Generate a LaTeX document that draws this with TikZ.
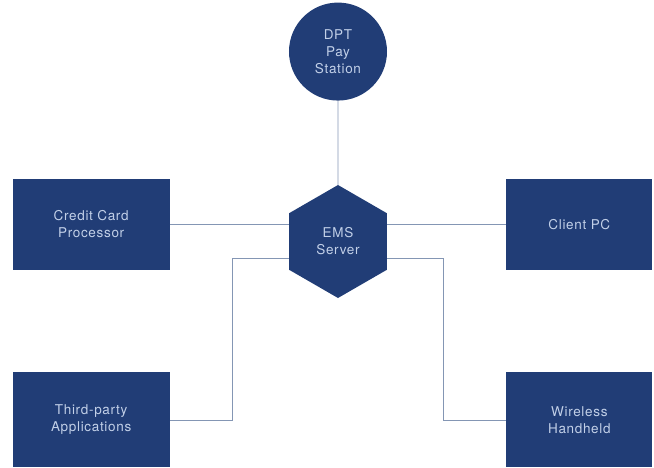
\documentclass[tikz,border=0pt]{standalone}
\usepackage{fontspec}
\setmainfont{TeX Gyre Heros}
\newfontfamily\labelfont[LetterSpace=5]{TeX Gyre Heros}
\usetikzlibrary{positioning,shapes.geometric}

\definecolor{boxblue}{HTML}{213D76}
\definecolor{linkgray}{HTML}{8496B4}
\definecolor{labelblue}{HTML}{C2D0E8}

\begin{document}
\begin{tikzpicture}[
    box/.style={draw=none,fill=boxblue,text=labelblue,inner sep=0pt,
      align=center,minimum width=157pt,minimum height=91pt,
      font=\labelfont\fontsize{13.5}{17}\selectfont},
    hub/.style={box,regular polygon,regular polygon sides=6,
      shape border rotate=30,minimum width=0pt,minimum height=0pt,minimum size=113pt},
    station/.style={box,circle,minimum width=0pt,minimum height=0pt,minimum size=98pt},
    link/.style={draw=linkgray,line width=0.8pt}
  ]
    \useasboundingbox (-338pt,-225.5pt) rectangle (316pt,241.5pt);
    \node[hub] (ems) at (0,0) {EMS\\Server};
    \node[station,above=84pt of ems] (dpt) {DPT\\Pay\\Station};
    \node[box,left=119pt of ems,yshift=17pt] (card) {Credit Card\\Processor};
    \node[box,right=119pt of ems,yshift=17pt,minimum width=146pt] (client) {Client PC};
    \node[box,below=102pt of card,minimum height=95pt] (third) {Third-party\\Applications};
    \node[box,below=102pt of client,minimum width=146pt,minimum height=95pt] (wireless) {Wireless\\Handheld};
    \draw[link] (dpt)--(ems);
    \draw[link] (card.east)--(card.east -| ems.west);
    \draw[link] (client.west)--(client.west -| ems.east);
    \draw[link] ([yshift=-16.5pt]ems.west) -| ([xshift=63pt]third.east)--(third.east);
    \draw[link] ([yshift=-16.5pt]ems.east) -| ([xshift=-63pt]wireless.west)--(wireless.west);
  \end{tikzpicture}
\end{document}
